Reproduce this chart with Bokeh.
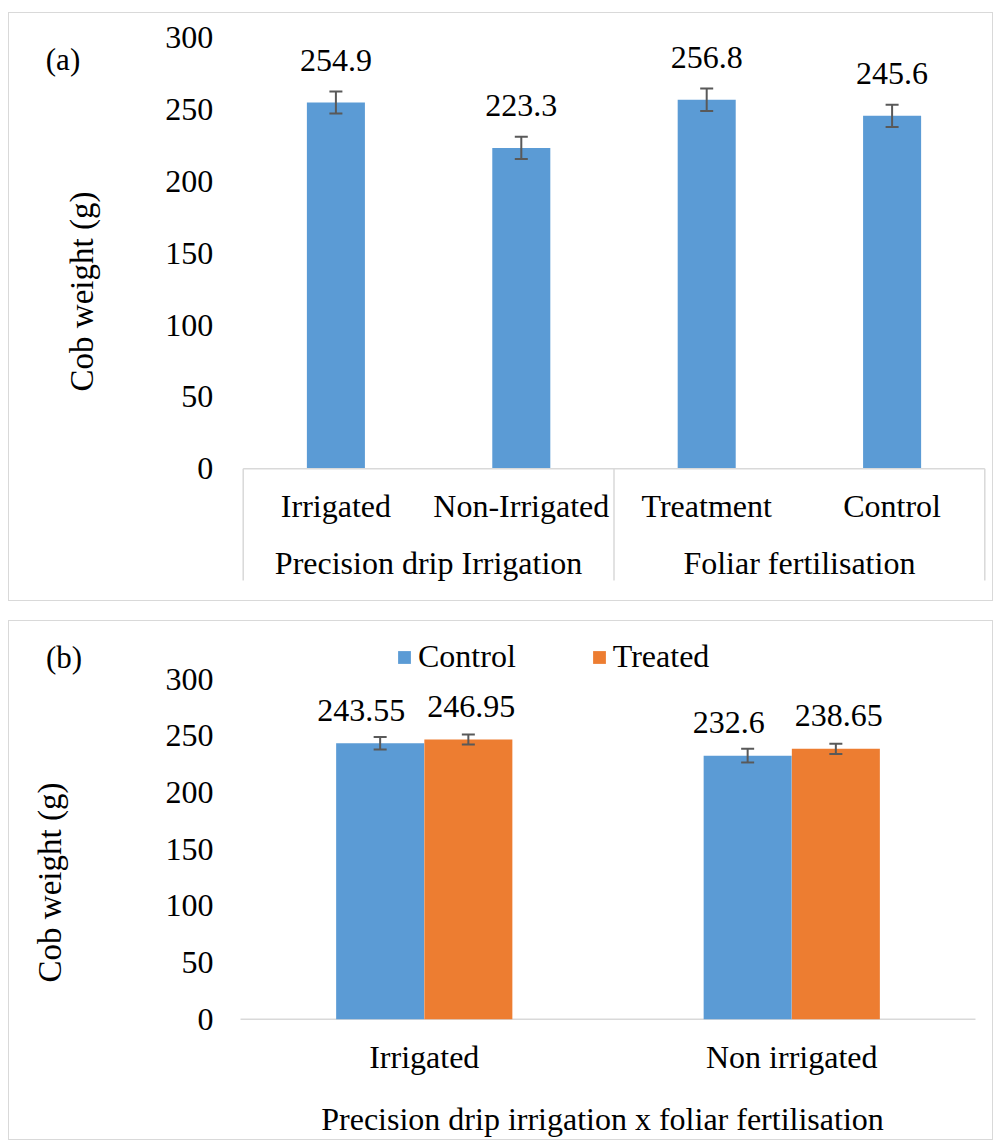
from math import pi

from bokeh.plotting import figure
from bokeh.models import (Range1d, ColumnDataSource, LinearAxis, FixedTicker, Label, Spacer)
from bokeh.layouts import column, row
from bokeh.embed import file_html
from bokeh.resources import INLINE
from bokeh.core.properties import value

# ---------------- data ----------------
# Panel (a)
groups_a = ["Precision drip Irrigation", "Foliar fertilisation"]
levels_a = ["Irrigated", "Non-Irrigated", "Treatment", "Control"]
means_a = [254.9, 223.3, 256.8, 245.6]
errors_a = [7.7, 7.7, 7.9, 7.8]

# Panel (b)
cats_b = ["Irrigated", "Non irrigated"]
control_b = [243.55, 232.6]
treated_b = [246.95, 238.65]
control_err_b = [5.6, 6.0]
treated_err_b = [4.4, 4.5]

y_ticks = [0, 50, 100, 150, 200, 250, 300]
y_title = "Cob weight (g)"
x_title_b = "Precision drip irrigation x foliar fertilisation"
series_b = ["Control", "Treated"]

# ---------------- style ----------------
FONT = "Liberation Serif"
FS = "32px"
BLUE = "#5B9BD5"
ORANGE = "#ED7D31"
LINE = "#D9D9D9"
ERR = "#595959"
BORDER = {"border": "1px solid #D9D9D9"}

W = 985            # inner canvas width of each panel
H1, H2 = 589, 520  # inner canvas heights


class PixelMap:
    """Maps page pixels to data units for a panel whose frame fills its canvas."""

    def __init__(self, ox, oy, w, h, px0, px1, vx0, vx1, py0, py1, vy0, vy1):
        self.sx = (px1 - px0) / (vx1 - vx0)
        self.sy = (py0 - py1) / (vy1 - vy0)
        self.px0, self.vx0, self.py0, self.vy0 = px0, vx0, py0, vy0
        self.x_start = self.x(ox)
        self.x_end = self.x(ox + w)
        self.y_end = self.y(oy)
        self.y_start = self.y(oy + h)

    def x(self, px):
        return self.vx0 + (px - self.px0) / self.sx

    def y(self, py):
        return self.vy0 + (self.py0 - py) / self.sy


def new_panel(m, h):
    p = figure(x_range=Range1d(m.x_start, m.x_end), y_range=Range1d(m.y_start, m.y_end),
               width=W, height=h, min_border=0, output_backend="svg", toolbar_location=None)
    p.xaxis.visible = False
    p.yaxis.visible = False
    p.xgrid.grid_line_color = None
    p.ygrid.grid_line_color = None
    p.outline_line_color = None
    p.background_fill_color = "white"
    p.border_fill_color = "white"
    p.styles = BORDER
    return p


def plain_axis(ax, standoff):
    ax.axis_line_color = None
    ax.major_tick_line_color = None
    ax.minor_tick_line_color = None
    ax.major_tick_out = 0
    ax.major_tick_in = 0
    ax.minor_tick_out = 0
    ax.minor_tick_in = 0
    ax.major_label_text_font = FONT
    ax.major_label_text_font_size = FS
    ax.major_label_text_color = "black"
    ax.major_label_standoff = standoff


def add_y_axis(p, standoff):
    ya = LinearAxis(fixed_location=0, ticker=FixedTicker(ticks=y_ticks))
    plain_axis(ya, standoff)
    p.add_layout(ya, "left")


def text_label(m, px, py, text, size, angle=0.0, baseline="middle"):
    return Label(x=m.x(px), y=m.y(py), text=text, angle=angle, text_font=FONT,
                 text_font_size=size, text_align="center", text_baseline=baseline,
                 text_color="black")


# ================= Panel (a) =================
m1 = PixelMap(9, 13, W, H1, 242.7, 984.3, 0, 4, 468.2, 37.2, 0, 300)
p1 = new_panel(m1, H1)
add_y_axis(p1, 30)

xa = [i + 0.5 for i in range(len(levels_a))]
gx = [2 * i + 1 for i in range(len(groups_a))]

ax1 = LinearAxis(fixed_location=0, ticker=FixedTicker(ticks=xa),
                 major_label_overrides={x: t for x, t in zip(xa, levels_a)})
plain_axis(ax1, 19)
p1.add_layout(ax1, "below")
ax2 = LinearAxis(fixed_location=0, ticker=FixedTicker(ticks=gx),
                 major_label_overrides={x: t for x, t in zip(gx, groups_a)})
plain_axis(ax2, 76)
p1.add_layout(ax2, "below")

src_a = ColumnDataSource(dict(
    x=xa, top=means_a,
    lo=[m - e for m, e in zip(means_a, errors_a)],
    hi=[m + e for m, e in zip(means_a, errors_a)],
    lab=[str(m) for m in means_a],
))
p1.vbar(x="x", top="top", bottom=0, width=0.313, source=src_a,
        fill_color=BLUE, line_color=None)
# category axis line and group separators
edges = [0, len(levels_a) // 2, len(levels_a)]
sep_low = m1.y(580)
p1.segment(x0=[edges[0]], y0=[0], x1=[edges[-1]], y1=[0], line_color=LINE, line_width=1.5)
p1.segment(x0=edges, y0=[0] * 3, x1=edges, y1=[sep_low] * 3, line_color=LINE, line_width=1.5)
# error bars
p1.segment(x0="x", y0="lo", x1="x", y1="hi", source=src_a, line_color=ERR, line_width=2)
p1.scatter(x="x", y="hi", source=src_a, marker="dash", size=13, line_color=ERR, line_width=2)
p1.scatter(x="x", y="lo", source=src_a, marker="dash", size=13, line_color=ERR, line_width=2)
# value labels
p1.text(x="x", y="top", text="lab", source=src_a, text_align="center",
        text_baseline="alphabetic", y_offset=-42, text_font=value(FONT),
        text_font_size=value(FS), text_color="black")

p1.add_layout(text_label(m1, 62.5, 58.5, "(a)", "31px"))
p1.add_layout(text_label(m1, 81, 291, y_title, "33px", angle=pi / 2))

# ================= Panel (b) =================
m2 = PixelMap(9, 623, W, H2, 240, 975, 0, 2, 1020.7, 680.8, 0, 300)
p2 = new_panel(m2, H2)
add_y_axis(p2, 27)

xb = [i + 0.5 for i in range(len(cats_b))]
axb = LinearAxis(fixed_location=0, ticker=FixedTicker(ticks=xb),
                 major_label_overrides={x: t for x, t in zip(xb, cats_b)})
plain_axis(axb, 20)
p2.add_layout(axb, "below")
p2.segment(x0=[0], y0=[0], x1=[len(cats_b)], y1=[0], line_color=LINE, line_width=1.5)

DX = 0.12
src_b = ColumnDataSource(dict(
    xc=[x - DX for x in xb], xt=[x + DX for x in xb],
    control=control_b, treated=treated_b,
    clo=[m - e for m, e in zip(control_b, control_err_b)],
    chi=[m + e for m, e in zip(control_b, control_err_b)],
    tlo=[m - e for m, e in zip(treated_b, treated_err_b)],
    thi=[m + e for m, e in zip(treated_b, treated_err_b)],
    clab=[str(m) for m in control_b],
    tlab=[str(m) for m in treated_b],
))
p2.vbar(x="xc", top="control", bottom=0, width=0.2395, source=src_b,
        fill_color=BLUE, line_color=None, legend_label=series_b[0])
p2.vbar(x="xt", top="treated", bottom=0, width=0.2395, source=src_b,
        fill_color=ORANGE, line_color=None, legend_label=series_b[1])
for xx, lo, hi in (("xc", "clo", "chi"), ("xt", "tlo", "thi")):
    p2.segment(x0=xx, y0=lo, x1=xx, y1=hi, source=src_b, line_color=ERR, line_width=2)
    p2.scatter(x=xx, y=hi, source=src_b, marker="dash", size=13, line_color=ERR, line_width=2)
    p2.scatter(x=xx, y=lo, source=src_b, marker="dash", size=13, line_color=ERR, line_width=2)
p2.text(x="xc", y="control", text="clab", source=src_b, text_align="center",
        text_baseline="alphabetic", y_offset=-33, x_offset=-19, text_font=value(FONT),
        text_font_size=value(FS), text_color="black")
p2.text(x="xt", y="treated", text="tlab", source=src_b, text_align="center",
        text_baseline="alphabetic", y_offset=-33, x_offset=3, text_font=value(FONT),
        text_font_size=value(FS), text_color="black")

lg = p2.legend[0]
lg.orientation = "horizontal"
lg.location = (387, 466)
lg.padding = 0
lg.margin = 0
lg.spacing = 75
lg.label_standoff = 6
lg.glyph_width = 16
lg.glyph_height = 16
lg.border_line_color = None
lg.background_fill_alpha = 0
lg.label_text_font = FONT
lg.label_text_font_size = FS
lg.label_text_color = "black"

p2.add_layout(text_label(m2, 63.5, 659, "(b)", "31px"))
p2.add_layout(text_label(m2, 49, 884, y_title, "33px", angle=pi / 2))
p2.add_layout(text_label(m2, 602, 1120, x_title_b, FS))

layout = row(Spacer(width=8),
             column(Spacer(height=12), p1, Spacer(height=19), p2, spacing=0),
             spacing=0)
open("out.html", "w").write(file_html(layout, INLINE))
